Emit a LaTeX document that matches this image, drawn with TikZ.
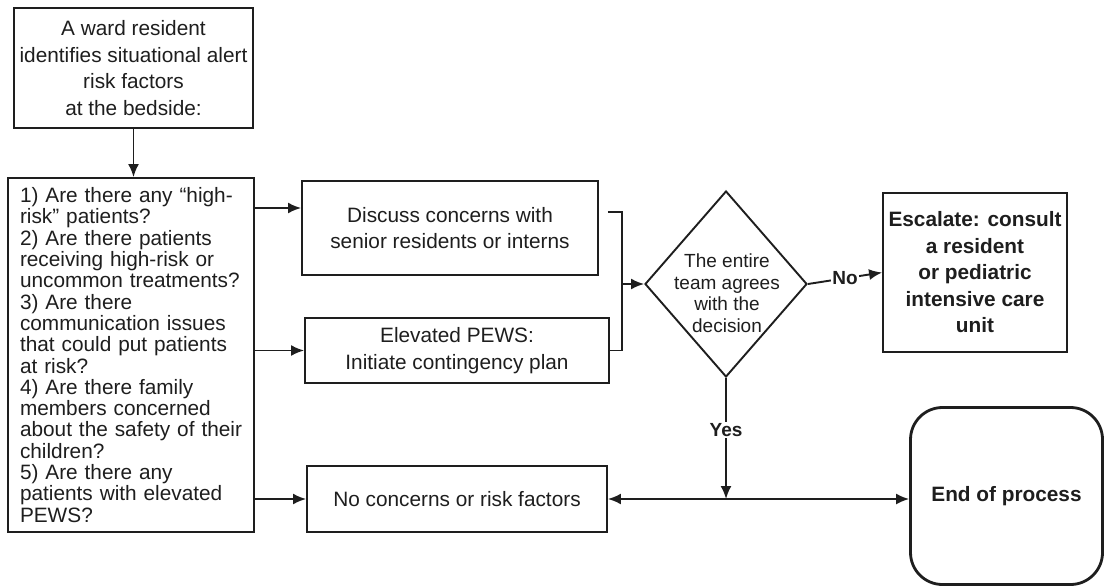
\documentclass[tikz,border=0pt]{standalone}
\usepackage{fontspec}
\setmainfont{Liberation Sans}
\usetikzlibrary{arrows.meta,shapes.geometric}
\definecolor{inkgray}{HTML}{1E1E1E}

\begin{document}
\begin{tikzpicture}[x=1pt,y=-1pt,>={Latex[length=13pt,width=11pt]},line width=1.9pt,color=inkgray]
      \tikzstyle{box}=[draw,inner sep=0pt,align=center,font=\fontsize{20.8}{26.7}\selectfont]
      \tikzstyle{boldbox}=[box,font=\bfseries\fontsize{20.8}{26.5}\selectfont]
      \tikzstyle{answer}=[fill=white,inner sep=1.5pt,font=\bfseries\fontsize{19}{21}\selectfont]

      \fill[white] (0,0) rectangle (1105,587);
      \useasboundingbox (0,0) rectangle (1105,587);

      \node[box,minimum width=239pt,minimum height=120pt] (ward) at (133.5,68) {A ward resident\\identifies situational alert\\risk factors\\at the bedside:};
      \node[box,align=left,text width=222pt,inner xsep=12pt,minimum height=354pt,font=\fontsize{20.8}{21.3}\selectfont] (quest) at (131,355) {1) Are there any “high-\\risk” patients?\\2) Are there patients\\receiving high-risk or\\uncommon treatments?\\3) Are there\\communication issues\\that could put patients\\at risk?\\4) Are there family\\members concerned\\about the safety of their\\children?\\5) Are there any\\patients with elevated\\PEWS?};
      \node[box,minimum width=296pt,minimum height=94pt] (discuss) at (450,228) {Discuss concerns with\\senior residents or interns};
      \node[box,minimum width=304pt,minimum height=65pt] (elevated) at (457,350.5) {Elevated PEWS:\\Initiate contingency plan};
      \node[box,minimum width=300pt,minimum height=66pt] (noconc) at (457,499) {No concerns or risk factors};
      \node[draw,diamond,minimum width=162pt,minimum height=186pt,inner sep=0pt] (agree) at (726,284) {};
      \node[align=center,font=\fontsize{19}{21.5}\selectfont] (agreetxt) at (727,293) {The entire\\team agrees\\with the\\decision};
      \node[boldbox,minimum width=184pt,minimum height=159pt] (escalate) at (975,272.5) {Escalate: consult\\a resident\\or pediatric\\intensive care\\unit};
      \node[boldbox,line width=2.8pt,rounded corners=32pt,minimum width=192pt,minimum height=177pt] (theend) at (1006.5,496) {End of process};

      \draw[->] (ward.south) -- (ward.south |- quest.north);
      \coordinate (d1) at ([yshift=20pt]discuss.west);
      \path[->] (quest.east |- d1) edge (d1);
      \path[->] (quest.east |- elevated.west) edge (elevated.west);
      \path[->] (quest.east |- noconc.west) edge (noconc.west);
      \coordinate (brk) at (622,284);
      \draw ([shift={(9,-16)}]discuss.east) -| (brk) |- (elevated.east);
      \path[->] (brk) edge (agree.west);
      \draw[->] (agree.east) -- node[answer] {No} (escalate.west);
      \coordinate (join) at (agree.south |- noconc.east);
      \draw[->] (agree.south) -- node[answer,pos=0.43] {Yes} (join);
      \draw[<->] (noconc.east) -- (noconc.east -| theend.west);
\end{tikzpicture}
\end{document}
